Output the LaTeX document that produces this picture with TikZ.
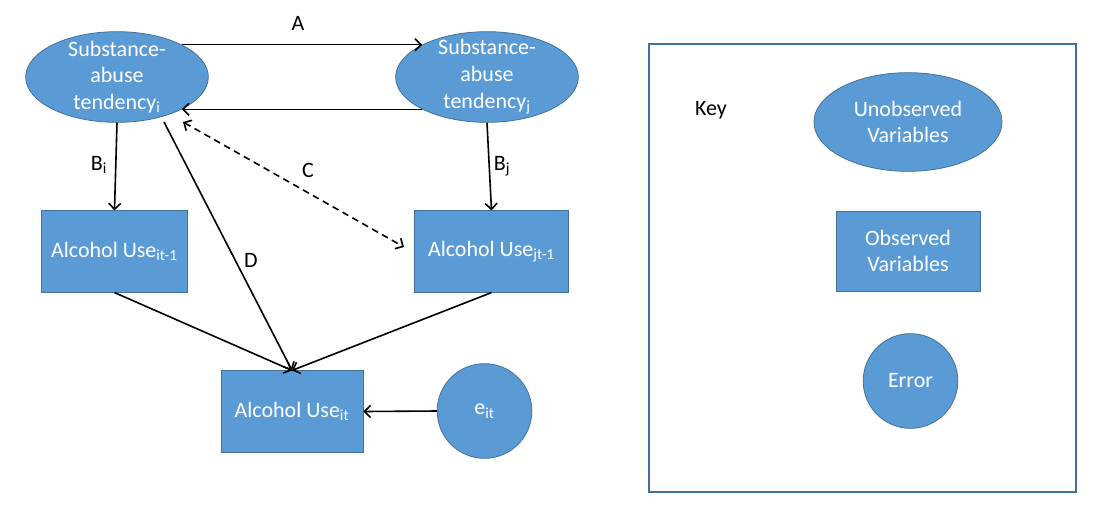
\documentclass[tikz,border=0pt]{standalone}
\usepackage{fontspec}
\setmainfont{Carlito}
\usepackage{tikz}
\usetikzlibrary{shapes.geometric, positioning, arrows.meta}
\definecolor{nodeblue}{HTML}{5B9BD5}
\definecolor{edgeblue}{HTML}{41719C}

\begin{document}
\begin{tikzpicture}[x=0.75pt, y=-0.75pt,
		every node/.style={font=\fontsize{16.5}{20}\selectfont},
		latent/.style={ellipse, fill=nodeblue, draw=edgeblue, line width=0.6pt, inner sep=0pt, text=white, align=center},
		observed/.style={rectangle, fill=nodeblue, draw=edgeblue, line width=0.6pt, inner sep=0pt, text=white, align=center},
		errnode/.style={circle, fill=nodeblue, draw=edgeblue, line width=0.6pt, inner sep=0pt, text=white, minimum size=71pt},
		intext/.style={text=white, align=center},
		path/.style={line width=1.2pt, -{Straight Barb[length=4.5pt, width=9pt]}}]
		
		\useasboundingbox (0,0) rectangle (1113,522);
		
		% Latent tendencies
		\node[latent, minimum width=137pt, minimum height=68pt,
			label={[intext]center:Substance-\\abuse\\tendency\textsubscript{i}}] (si) at (117,77) {};
		\node[latent, minimum width=137pt, minimum height=68pt,
			label={[intext]center:Substance-\\abuse\\tendency\textsubscript{j}}] (sj) at (487,77) {};
		
		% Observed alcohol use
		\node[observed, minimum width=110pt, minimum height=61pt] (ai) at (114.5,251.5) {Alcohol Use\textsubscript{it-1}};
		\node[observed, minimum width=115pt, minimum height=61pt] (aj) at (491.5,251.5) {Alcohol Use\textsubscript{jt-1}};
		\node[observed, minimum width=106.5pt, minimum height=61pt] (ait) at (292,411.5) {Alcohol Use\textsubscript{it}};
		
		% Error term
		\node[errnode] (eit) at (484.5,411) {e\textsubscript{it}};
		
		% Free ends of C and D
		\coordinate (cstart) at (183,122);
		\coordinate (cend) at (404,247);
		\coordinate (dstart) at (164,122);
		
		% Paths
		\draw[path] (si.north east) -- (sj.north west);
		\draw[path] (sj.south west) -- (si.south east);
		\draw[path] (si.south) -- (ai.north);
		\draw[path] (sj.south) -- (aj.north);
		\draw[path, {Straight Barb[length=4.5pt, width=9pt]}-{Straight Barb[length=4.5pt, width=9pt]}, dash pattern=on 5pt off 3.5pt] (cstart) -- (cend);
		\draw[path] (dstart) -- (ait.north);
		\draw[path] (ai.south) -- (ait.north);
		\draw[path] (aj.south) -- (ait.north);
		\draw[path] (eit.west) -- (ait.east);
		
		% Path labels
		\node (la) at (298,23) {A};
		\node (lbi) at (99,165) {B\textsubscript{i}};
		\node (lc) at (308,170) {C};
		\node (lbj) at (502,166) {B\textsubscript{j}};
		\node (ld) at (251,260) {D};
		
		% Key
		\draw[edgeblue, line width=1.5pt] (649,44) rectangle (1076,492);
		\node (key) at (711,110) {Key};
		\node[latent, minimum width=141pt, minimum height=74pt] (kl) at (908,122) {Unobserved\\Variables};
		\node[observed, minimum width=108pt, minimum height=60pt] (ko) at (908,251) {Observed\\Variables};
		\node[errnode] (ke) at (910.5,381) {Error};
		
	\end{tikzpicture}
\end{document}
